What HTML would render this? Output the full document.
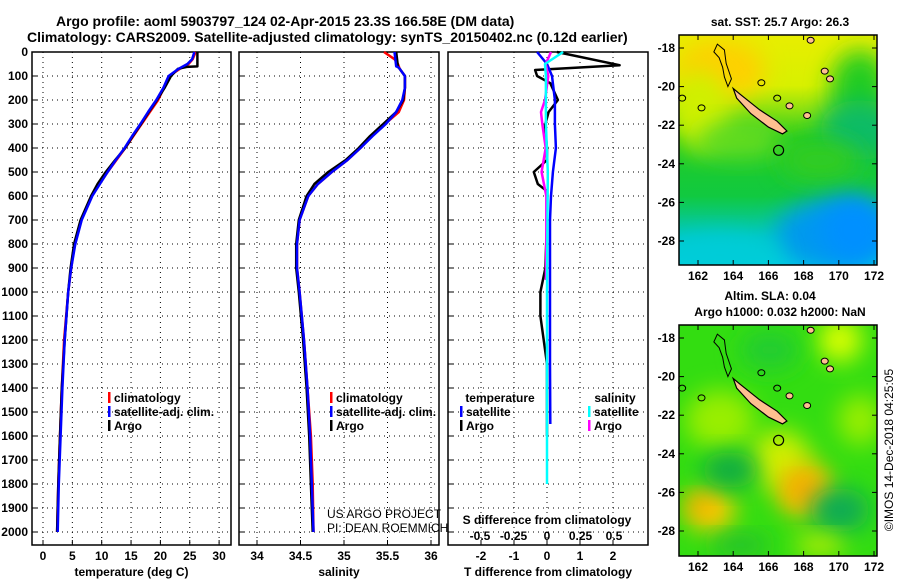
<!DOCTYPE html>
<html><head><meta charset="utf-8"><style>
body{margin:0;background:#fff;}
svg text{font-family:"Liberation Sans",sans-serif;}
</style></head><body>
<svg id="fig" width="900" height="580" viewBox="0 0 900 580" xmlns="http://www.w3.org/2000/svg">
<defs>
<filter id="blur1" x="-50%" y="-50%" width="200%" height="200%"><feGaussianBlur stdDeviation="12"/></filter>
<clipPath id="clipm1"><rect x="679" y="35" width="198" height="230"/></clipPath>
<clipPath id="clipm2"><rect x="679" y="325" width="198" height="231"/></clipPath>
<linearGradient id="sstgrad" x1="0" y1="0" x2="0" y2="1">
<stop offset="0" stop-color="#e8ee00"/><stop offset="0.22" stop-color="#d8f000"/><stop offset="0.33" stop-color="#88e010"/>
<stop offset="0.45" stop-color="#22cc22"/><stop offset="0.7" stop-color="#11c940"/><stop offset="0.88" stop-color="#00c8c0"/><stop offset="1" stop-color="#00d0e0"/>
</linearGradient>
</defs>
<text x="56" y="26" font-size="14" font-weight="bold">Argo profile: aoml 5903797_124 02-Apr-2015 23.3S 166.58E (DM data)</text>
<text x="27" y="42" font-size="14" font-weight="bold">Climatology: CARS2009. Satellite-adjusted climatology: synTS_20150402.nc (0.12d earlier)</text>
<g id="p1"></g>
<g id="p2"></g>
<g id="p3"></g>
<g id="m1"></g>
<g id="m2"></g>
</svg>
<script>
// ---- data ----
const depthTicks=[0,100,200,300,400,500,600,700,800,900,1000,1100,1200,1300,1400,1500,1600,1700,1800,1900,2000];
const tempTicks=[0,5,10,15,20,25,30];
const salTicks=[34,34.5,35,35.5,36];
const salTickLabels=["34","34.5","35","35.5","36"];
const tdTicks=[-2,-1,0,1,2];
const sdTicks=[-0.5,-0.25,0,0.25,0.5];
const sdTickLabels=["-0.5","-0.25","0","0.25","0.5"];

const argoDepth=[0,60,62,70,100,150,200,250,300,350,400,450,500,550,600,700,800,900,1000,1200,1400,1600,1800,2000];
const argoTemp=[26.3,26.3,24.5,23.0,21.8,20.7,19.4,18.0,16.7,15.3,14.0,12.3,10.7,9.3,8.2,6.4,5.3,4.7,4.3,3.7,3.2,2.9,2.6,2.4];
const climDepth=[0,30,50,70,100,150,200,250,300,350,400,450,500,550,600,700,800,900,1000,1200,1400,1600,1800,2000];
const climTemp=[26.0,25.5,24.8,23.3,21.5,20.6,19.6,18.2,16.8,15.4,14.0,12.5,11.0,9.6,8.3,6.5,5.4,4.8,4.3,3.6,3.2,2.9,2.6,2.4];
const satTemp=[25.8,25.4,24.6,23.1,21.4,20.5,19.3,17.9,16.6,15.2,13.9,12.4,11.0,9.7,8.4,6.6,5.5,4.8,4.3,3.7,3.3,3.0,2.7,2.5];

const argoSal=[35.60,35.62,35.62,35.64,35.70,35.70,35.68,35.60,35.45,35.30,35.17,35.02,34.82,34.66,34.57,34.48,34.45,34.45,34.48,34.53,34.57,34.60,34.62,34.64];
const climSal=[35.46,35.58,35.62,35.64,35.70,35.70,35.69,35.63,35.47,35.32,35.19,35.04,34.86,34.70,34.59,34.49,34.46,34.46,34.49,34.54,34.58,34.62,34.64,34.65];
const satSal=[35.58,35.60,35.62,35.64,35.70,35.70,35.67,35.60,35.48,35.33,35.19,35.04,34.86,34.70,34.59,34.49,34.46,34.46,34.49,34.54,34.58,34.61,34.63,34.65];

const tdArgoDepth=[0,55,75,100,130,200,250,305,400,450,500,550,580,700,900,1000,1100,1200,1300,1600];
const tdArgo=[0.3,2.2,-0.36,-0.3,0.1,0.33,0.05,-0.06,0,0,-0.4,-0.28,0,0,-0.05,-0.2,-0.2,-0.1,0,0];
const tdSatDepth=[0,50,100,200,300,400,500,600,700,1000,1300,1550];
const tdSat=[-0.3,0,0.15,0.24,0.24,0.27,0.18,0.12,0.09,0.09,0.09,0.1];
const sdArgoDepth=[0,50,100,200,250,300,400,500,600,800,950];
const sdArgo=[0.03,-0.01,0.01,-0.015,-0.045,-0.035,-0.01,-0.04,-0.005,-0.005,-0.008];
const sdSatDepth=[0,50,100,200,300,500,1000,1500,1800];
const sdSat=[0.12,-0.015,-0.008,-0.008,-0.008,0.006,0,0,0];

const latTicks=[-18,-20,-22,-24,-26,-28];
const lonTicks=[162,164,166,168,170,172];
const islandLon=[164,164.4,165.5,166.5,167.05,166.8,166,165,164.2];
const islandLat=[-20.1,-20.4,-21.2,-21.8,-22.3,-22.45,-22.1,-21.4,-20.6];

// ---- helpers ----
const NS="http://www.w3.org/2000/svg";
function mk(parent,tag,attrs,name){const e=document.createElementNS(NS,tag);for(const k in attrs)e.setAttribute(k,attrs[k]);


parent.appendChild(e);return e;}
function txt(parent,x,y,s,name,extra){const t=mk(parent,'text',Object.assign({x:x,y:y,'font-size':12,'font-weight':'bold','text-anchor':'middle'},extra||{}),name);t.textContent=s;return t;}
const yTop=52,yBot=545;
function yD(d){return 52+d*0.24;}
function line(g,xs,ds,fx,color,w,name){let p=xs.map((v,i)=>fx(v).toFixed(1)+','+yD(ds[i]).toFixed(1)).join(' ');
mk(g,'polyline',{points:p,fill:'none',stroke:color,'stroke-width':w,'stroke-linejoin':'round'},name);}
function panel(g,x0,x1,xt,fx,labels,xlabel,showY){
 mk(g,'rect',{x:x0,y:yTop,width:x1-x0,height:yBot-yTop,fill:'#fff',stroke:'#000','stroke-width':1.5},'plot-frame');
 depthTicks.forEach(d=>{mk(g,'line',{x1:x0,x2:x1,y1:yD(d),y2:yD(d),stroke:'#000','stroke-width':1,'stroke-dasharray':'1,4'},'grid-h');
  mk(g,'line',{x1:x0,x2:x0+5,y1:yD(d),y2:yD(d),stroke:'#000'},'y-tick');
  if(showY) txt(g,x0-4,yD(d)+4,String(d),'y-tick-label',{'text-anchor':'end'});});
 xt.forEach((v,i)=>{const x=fx(v);mk(g,'line',{x1:x,x2:x,y1:yTop,y2:yBot,stroke:'#000','stroke-dasharray':'1,4'},'grid-v');
  mk(g,'line',{x1:x,x2:x,y1:yBot-5,y2:yBot,stroke:'#000'},'x-tick');
  txt(g,x,560,labels[i],'x-tick-label');});
 txt(g,(x0+x1)/2,576,xlabel,'x-axis-title');
}
function legend(g,x,y,items){items.forEach((it,i)=>{mk(g,'rect',{x:x,y:y+i*14-10,width:2.5,height:11,fill:it[1]},'legend-swatch');
 txt(g,x+6,y+i*14,it[0],'legend-entry',{'text-anchor':'start'});});}

// ---- panel 1 ----
const p1=document.getElementById('p1');
const fT=v=>43+v*5.87;
panel(p1,32,231,tempTicks,fT,tempTicks.map(String),'temperature (deg C)',true);
line(p1,climTemp,climDepth,fT,'#f00',2.5,'climatology-line');
line(p1,argoTemp,argoDepth,fT,'#000',2.5,'argo-line');
line(p1,satTemp,climDepth,fT,'#00f',2.5,'satellite-line');
legend(p1,108,402,[['climatology','#f00'],['satellite-adj. clim.','#00f'],['Argo','#000']]);

// ---- panel 2 ----
const p2=document.getElementById('p2');
const fS=v=>257+(v-34)*87;
panel(p2,239,439,salTicks,fS,salTickLabels,'salinity',false);
line(p2,climSal,climDepth,fS,'#f00',2.5,'climatology-line');
line(p2,argoSal,argoDepth,fS,'#000',2.5,'argo-line');
line(p2,satSal,argoDepth,fS,'#00f',2.5,'satellite-line');
legend(p2,330,402,[['climatology','#f00'],['satellite-adj. clim.','#00f'],['Argo','#000']]);
txt(p2,327,518,'US ARGO PROJECT','credit-project',{'font-weight':'normal','text-anchor':'start'});
txt(p2,327,532,'PI: DEAN ROEMMICH','credit-pi',{'font-weight':'normal','text-anchor':'start'});

// ---- panel 3 ----
const p3=document.getElementById('p3');
const fTd=v=>547+v*33;
const fSd=v=>547+v*134;
panel(p3,448,648,tdTicks,fTd,tdTicks.map(String),'T difference from climatology',false);
line(p3,tdArgo,tdArgoDepth,fTd,'#000',2.5,'t-diff-argo-line');
line(p3,tdSat,tdSatDepth,fTd,'#00f',2.5,'t-diff-satellite-line');
line(p3,sdArgo,sdArgoDepth,fSd,'#f0f',2.5,'s-diff-argo-line');
line(p3,sdSat,sdSatDepth,fSd,'#0ff',2.5,'s-diff-satellite-line');
txt(p3,500,402,'temperature','legend-title-temperature');
legend(p3,460,416,[['satellite','#00f'],['Argo','#000']]);
txt(p3,615,402,'salinity','legend-title-salinity');
legend(p3,588,416,[['satellite','#0ff'],['Argo','#f0f']]);
txt(p3,547,524,'S difference from climatology','s-axis-title');
sdTicks.forEach((v,i)=>txt(p3,fSd(v),540,sdTickLabels[i],'s-tick-label'));

// ---- maps ----
function map(g,top,bot,lat18,lat28,clipId,bgFn,title){
 const fx=l=>698+(l-162)*17.6, fy=la=>lat18+(-18-la)*(lat28-lat18)/10;
 const bg=mk(g,'g',{'clip-path':'url(#'+clipId+')'},'map-background');
 bgFn(bg,top,bot);
 const pts=islandLon.map((l,i)=>fx(l).toFixed(1)+','+fy(islandLat[i]).toFixed(1)).join(' ');
 mk(g,'polygon',{points:pts,fill:'#ffbf90',stroke:'#000','stroke-width':1.2},'new-caledonia-island');
 mk(g,'path',{d:`M${fx(163.7)},${fy(-20)} L${fx(163.5)},${fy(-19.5)} L${fx(163.4)},${fy(-19)} L${fx(163.2)},${fy(-18.5)} L${fx(162.9)},${fy(-18.2)} L${fx(163.1)},${fy(-17.8)} L${fx(163.5)},${fy(-18.1)} L${fx(163.6)},${fy(-18.8)} L${fx(163.9)},${fy(-19.6)} Z`,fill:'none',stroke:'#000'},'reef-outline');
 [[165.6,-19.8,'none'],[166.5,-20.6,'none'],[167.2,-21.0,'#ffbf90'],[168.2,-21.5,'#ffbf90'],[169.2,-19.2,'#ffbf90'],[169.5,-19.6,'#ffbf90'],[168.4,-17.6,'#ffbf90'],[162.2,-21.1,'none'],[161.1,-20.6,'none']].forEach(p=>mk(g,'ellipse',{cx:fx(p[0]),cy:fy(p[1]),rx:3.5,ry:3,fill:p[2],stroke:'#000'},'small-island'));
 mk(g,'circle',{cx:fx(166.58),cy:fy(-23.3),r:5,fill:'none',stroke:'#000','stroke-width':1.2},'argo-location-marker');
 mk(g,'rect',{x:679,y:top,width:198,height:bot-top,fill:'none',stroke:'#000','stroke-width':1.5},'map-frame');
 latTicks.forEach(la=>{mk(g,'line',{x1:679,x2:684,y1:fy(la),y2:fy(la),stroke:'#000'},'lat-tick');
  mk(g,'line',{x1:872,x2:877,y1:fy(la),y2:fy(la),stroke:'#000'},'lat-tick');
  txt(g,675,fy(la)+4,String(la),'lat-tick-label',{'text-anchor':'end'});});
 lonTicks.forEach(l=>{mk(g,'line',{x1:fx(l),x2:fx(l),y1:bot-5,y2:bot,stroke:'#000'},'lon-tick');
  mk(g,'line',{x1:fx(l),x2:fx(l),y1:top,y2:top+5,stroke:'#000'},'lon-tick');
  txt(g,fx(l),bot+15,String(l),'lon-tick-label');});
}
function bg1(g,top,bot){
 mk(g,'rect',{x:679,y:top,width:198,height:bot-top,fill:'url(#sstgrad)'},'sst-base');
 [[720,70,45,30,'#ffd000'],[700,110,30,40,'#d0f000'],[860,90,30,40,'#22cc22'],[860,130,40,30,'#10bb66'],
  [740,140,45,18,'#66dd22'],[820,160,40,20,'#33cc22'],[830,235,55,35,'#0099ee'],[855,230,35,35,'#0090ff'],[720,255,60,20,'#00ccd8']]
 .forEach(b=>mk(g,'ellipse',{cx:b[0],cy:b[1],rx:b[2],ry:b[3],fill:b[4],filter:'url(#blur1)'},'sst-blob'));
}
function bg2(g,top,bot){
 mk(g,'rect',{x:679,y:top,width:198,height:bot-top,fill:'#33dd11'},'sla-base');
 [[840,340,22,22,'#ddff00'],[720,420,35,30,'#99ee00'],[780,460,30,30,'#ccf000'],[805,490,28,28,'#ffc000'],[805,490,15,12,'#f0a000'],
  [710,510,25,22,'#ffcc00'],[700,505,12,10,'#f0a000'],[840,510,30,22,'#11aa55'],[730,470,28,18,'#11aa44'],[770,350,30,20,'#22cc33'],
  [860,420,22,25,'#99ee00'],[740,545,30,10,'#22bb33'],[820,545,25,10,'#ccf000']]
 .forEach(b=>mk(g,'ellipse',{cx:b[0],cy:b[1],rx:b[2],ry:b[3],fill:b[4],filter:'url(#blur1)'},'sla-blob'));
}
const m1=document.getElementById('m1'),m2=document.getElementById('m2');
map(m1,35,265,48,241,'clipm1',bg1);
txt(m1,780,26,'sat. SST: 25.7 Argo: 26.3','sst-map-title');
map(m2,325,556,338,531,'clipm2',bg2);
txt(m2,770,300,'Altim. SLA: 0.04','sla-map-title');
txt(m2,780,316,'Argo h1000: 0.032 h2000: NaN','sla-map-subtitle');
txt(m2,893,450,'©IMOS 14-Dec-2018 04:25:05','imos-timestamp',{'font-weight':'normal',transform:'rotate(-90 893 450)'});
</script>
</body></html>
